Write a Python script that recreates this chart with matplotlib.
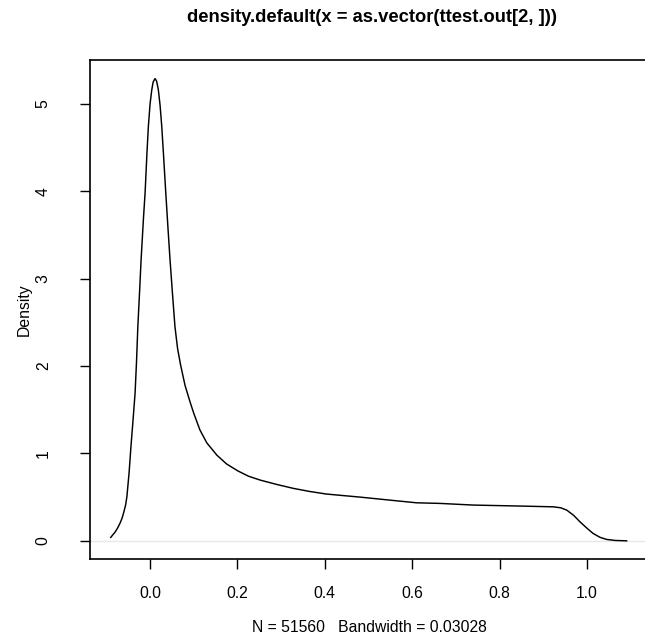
import numpy as np
import matplotlib
matplotlib.use("Agg")
import matplotlib.pyplot as plt

plt.rcParams['font.family'] = ['Liberation Sans', 'DejaVu Sans']

# density estimate
x_vals = [-0.090, -0.085, -0.080, -0.075, -0.0686, -0.064, -0.060, -0.056, -0.053,
          -0.048, -0.0435, -0.039, -0.0343, -0.031, -0.028, -0.024, -0.0206,
          -0.015, -0.0114, -0.007, -0.0039, 0.0, 0.0039, 0.007, 0.0114, 0.015,
          0.019, 0.023, 0.0268, 0.031, 0.036, 0.041, 0.0458, 0.051, 0.057,
          0.063, 0.070, 0.080, 0.0915, 0.100, 0.114, 0.130, 0.153, 0.175,
          0.201, 0.225, 0.252, 0.290, 0.328, 0.365, 0.404, 0.481, 0.550,
          0.610, 0.664, 0.740, 0.854, 0.923, 0.940, 0.954, 0.970, 0.984,
          1.000, 1.014, 1.030, 1.045, 1.065, 1.091]
dens = [0.039, 0.07, 0.10, 0.14, 0.203, 0.26, 0.33, 0.41, 0.506,
        0.78, 1.096, 1.38, 1.69, 2.05, 2.45, 2.85, 3.21,
        3.70, 3.98, 4.45, 4.74, 5.00, 5.16, 5.25, 5.29, 5.26,
        5.16, 4.98, 4.74, 4.40, 3.98, 3.58, 3.21, 2.85, 2.45,
        2.20, 2.01, 1.78, 1.59, 1.46, 1.27, 1.12, 0.98, 0.88,
        0.80, 0.74, 0.695, 0.645, 0.60, 0.565, 0.535, 0.50, 0.465,
        0.435, 0.428, 0.409, 0.397, 0.389, 0.378, 0.351, 0.29, 0.218,
        0.145, 0.085, 0.040, 0.016, 0.004, 0.0]

x_ticks = [0.0, 0.2, 0.4, 0.6, 0.8, 1.0]
y_ticks = [0, 1, 2, 3, 4, 5]

title = "density.default(x = as.vector(ttest.out[2, ]))"
xlabel = "N = 51560   Bandwidth = 0.03028"
ylabel = "Density"

W, H = 645, 633
fig = plt.figure(figsize=(W / 100, H / 100), dpi=100)
left, right, top, bottom = 90, 647.3, 60, 559.3
ax = fig.add_axes([left / W, 1 - bottom / H, (right - left) / W, (bottom - top) / H])

ax.axhline(0, color='#e8e8e8', lw=1.0, zorder=1)
ax.plot(x_vals, dens, color='black', lw=1.05, zorder=2)

ax.set_xlim(-0.1375, 1.1383)
ax.set_ylim(-0.2116, 5.5024)

ax.set_xticks(x_ticks)
ax.set_xticklabels([f"{v:.1f}" for v in x_ticks])
ax.set_yticks(y_ticks)
ax.set_yticklabels([str(v) for v in y_ticks], rotation=90, va='center')

ax.tick_params(axis='both', direction='out', length=7.2, width=1.0,
               labelsize=11.3, color='black')
ax.tick_params(axis='x', pad=12)
ax.tick_params(axis='y', pad=21)
for s in ax.spines.values():
    s.set_linewidth(1.2)

fig.text(372 / W, 1 - 17 / H, title, ha='center', va='center',
         fontsize=13.2, fontweight='bold')
fig.text(369 / W, 1 - 627 / H, xlabel, ha='center', va='center', fontsize=11.3)
fig.text(24 / W, 1 - 310 / H, ylabel, ha='center', va='center', fontsize=11.3,
         rotation=90)

fig.savefig("out.png", dpi=100)
